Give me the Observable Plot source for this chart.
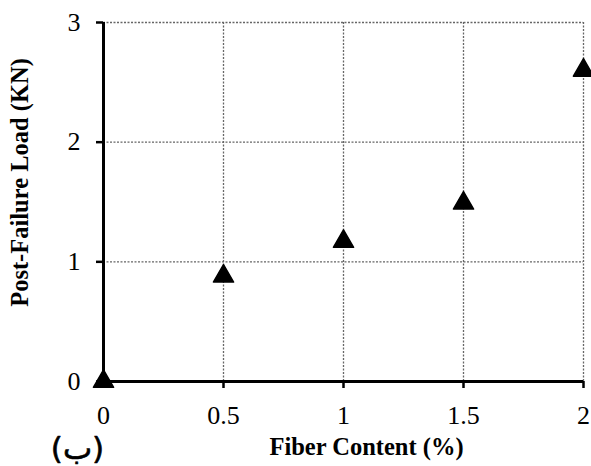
<!DOCTYPE html>
<html>
<head>
<meta charset="utf-8">
<script src="https://cdn.jsdelivr.net/npm/d3@7"></script>
<script src="https://cdn.jsdelivr.net/npm/@observablehq/plot@0.6"></script>
<style>
  html, body { margin: 0; padding: 0; background: #fff; }
  svg { display: block; }
</style>
</head>
<body>
<div id="chart"></div>
<script>
const fiberContent = [0, 0.5, 1, 1.5, 2];
const postFailureLoad = [0, 0.88, 1.17, 1.49, 2.6];
const xTicks = [0, 0.5, 1, 1.5, 2];
const yTicks = [0, 1, 2, 3];
const xLabel = "Fiber Content (%)";
const yLabel = "Post-Failure Load (KN)";
const panelLabel = "(ب)";

const data = fiberContent.map((x, i) => ({x, y: postFailureLoad[i]}));
const serif = "'Liberation Serif', 'DejaVu Serif', serif";

const chart = Plot.plot({
  width: 591,
  height: 466,
  marginLeft: 103,
  marginRight: 8,
  marginTop: 22,
  marginBottom: 85,
  style: {fontFamily: serif, background: "#fff", color: "#000"},
  x: {domain: [0, 2]},
  y: {domain: [0, 3]},
  marks: [
    Plot.gridX(xTicks.filter(d => d > 0), {stroke: "#666", strokeOpacity: 1, strokeWidth: 1.3, strokeDasharray: "2,1.5"}),
    Plot.gridY(yTicks.filter(d => d > 0), {stroke: "#666", strokeOpacity: 1, strokeWidth: 1.3, strokeDasharray: "2,1.5"}),
    Plot.axisX(xTicks, {tickSize: 7, tickPadding: 17, strokeWidth: 2.5, fontSize: 26, label: null, tickFormat: d => String(d)}),
    Plot.axisY(yTicks, {tickSize: 7, tickPadding: 16, strokeWidth: 2.5, fontSize: 26, label: null, tickFormat: d => String(d)}),
    Plot.ruleX([0], {stroke: "#000", strokeWidth: 3}),
    Plot.ruleY([0], {stroke: "#000", strokeWidth: 3}),
    Plot.dot(data, {x: "x", y: "y", symbol: "triangle", r: 7.5, fill: "#000", stroke: "#000", strokeWidth: 1.5, strokeLinejoin: "round"}),
    Plot.text([xLabel], {frameAnchor: "bottom", textAnchor: "middle", lineAnchor: "middle", text: d => d, dx: 23, dy: 66, fontSize: 24.5, fontWeight: "bold", fill: "#000"}),
    Plot.text([yLabel], {frameAnchor: "left", textAnchor: "middle", lineAnchor: "middle", text: d => d, rotate: -90, dx: -83, dy: -19.5, fontSize: 24.5, fontWeight: "bold", fill: "#000"}),
    Plot.text([panelLabel], {frameAnchor: "bottom-left", textAnchor: "middle", lineAnchor: "middle", text: d => d, dx: -26, dy: 68, fontSize: 31, fill: "#000", stroke: "#000", strokeWidth: 0.6, fontFamily: "'DejaVu Sans', sans-serif"})
  ]
});
document.getElementById("chart").appendChild(chart);
</script>
</body>
</html>
